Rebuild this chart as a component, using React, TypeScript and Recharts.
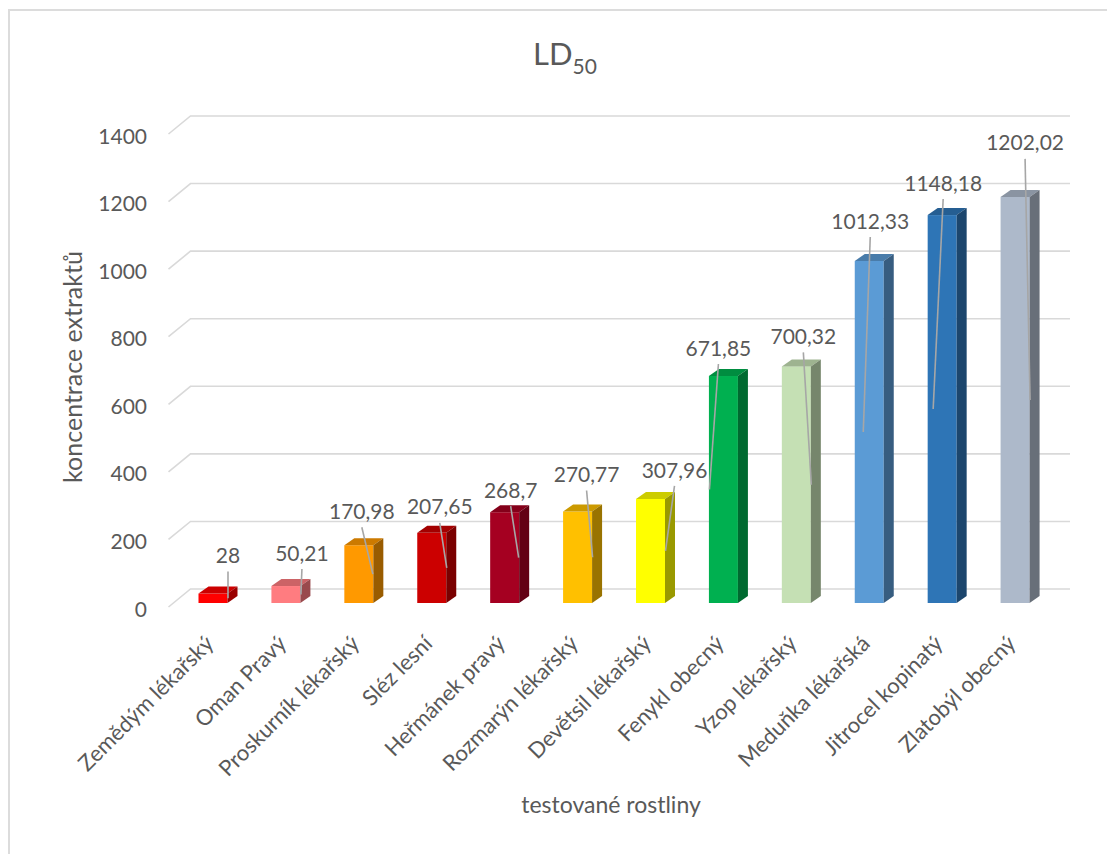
import React from 'react';
import { BarChart, Bar, XAxis, YAxis, CartesianGrid, LabelList, Cell } from 'recharts';

const PLANTS = [
  'Zemědým lékařský',
  'Oman Pravý',
  'Proskurník lékařský',
  'Sléz lesní',
  'Heřmánek pravý',
  'Rozmarýn lékařský',
  'Devětsil lékařský',
  'Fenykl obecný',
  'Yzop lékařský',
  'Meduňka lékařská',
  'Jitrocel kopinatý',
  'Zlatobýl obecný',
];

const LD50 = [28, 50.21, 170.98, 207.65, 268.7, 270.77, 307.96, 671.85, 700.32, 1012.33, 1148.18, 1202.02];

const Y_TICKS = [0, 200, 400, 600, 800, 1000, 1200, 1400];

const BAR_COLORS = [
  '#ff0000', '#ff7c80', '#ff9900', '#cc0000', '#a50021', '#ffc000',
  '#ffff00', '#00b050', '#c5e0b4', '#5b9bd5', '#2e75b6', '#adb9ca',
];

// Where the data labels sit, relative to the front face of each bar:
// [label dx from bar center, label dy from bar top, leader end dx from bar center]
const LABEL_NUDGE: [number, number, number][] = [
  [15, -38, 15], [16, -33, 15], [3, -34, 14], [8, -26, 15],
  [6, -22, 14], [9, -37, 15], [24, -29, 15], [-5, -28, -14],
  [7, -30, 15], [1, -40, -6], [1, -32, -9], [10, -54, 15],
];

const FONT = 'Lato, "Open Sans", sans-serif';
const TEXT = '#595959';
const GRID = '#d9d9d9';

// back wall offset of the gridlines, and depth of the bars
const BAR_DX = 10;
const BAR_DY = 7;

const data = PLANTS.map((name, i) => ({ name, value: LD50[i] }));

const fmt = (v: number) => String(v).replace('.', ',');

function shade(hex: string, f: number): string {
  const n = parseInt(hex.slice(1), 16);
  const r = Math.round(((n >> 16) & 255) * f);
  const g = Math.round(((n >> 8) & 255) * f);
  const b = Math.round((n & 255) * f);
  return `rgb(${r},${g},${b})`;
}

// gridline: short diagonal on the side wall, then along the back wall
const WallLine = (p: any) => {
  const { x1, y1, x2 } = p;
  const d = `M${x1 - 8},${y1 + 4} L${x1 + 14},${y1 - 14} L${x2 + 18.5},${y1 - 14}`;
  return <path key={p.key} d={d} fill="none" stroke={GRID} strokeWidth={1.6} />;
};

const Bar3D = (p: any) => {
  const { x, y, width, height, fill } = p;
  if (!height || height <= 0) return null;
  const top = `M${x},${y} L${x + BAR_DX},${y - BAR_DY} L${x + width + BAR_DX},${y - BAR_DY} L${x + width},${y} Z`;
  const side = `M${x + width},${y} L${x + width + BAR_DX},${y - BAR_DY} L${x + width + BAR_DX},${y + height - BAR_DY} L${x + width},${y + height} Z`;
  return (
    <g>
      <rect x={x} y={y} width={width} height={height} fill={fill} />
      <path d={top} fill={shade(fill, 0.8)} />
      <path d={side} fill={shade(fill, 0.6)} />
    </g>
  );
};

const LeaderLabel = (p: any) => {
  const { x, y, width, height, value, index } = p;
  const [dx, dy, ex] = LABEL_NUDGE[index];
  const cx = Number(x) + Number(width) / 2;
  const lx = cx + dx;
  const ly = Number(y) + dy;
  return (
    <g>
      <line x1={lx} y1={ly + 16} x2={cx + ex} y2={Number(y) + Number(height) / 2} stroke="#a6a6a6" strokeWidth={1.6} />
      <text x={lx} y={ly} dy="0.36em" textAnchor="middle" fontFamily={FONT} fontSize={21} fill={TEXT}>
        {fmt(value)}
      </text>
    </g>
  );
};

const PlantTick = (p: any) => {
  const { x, y, payload } = p;
  const tx = x + 2;
  const ty = y + 34;
  return (
    <text x={tx} y={ty} transform={`rotate(-45 ${tx} ${ty})`} textAnchor="end" fontFamily={FONT} fontSize={22} fill={TEXT}>
      {payload.value}
    </text>
  );
};

const ValueTick = (p: any) => {
  const { x, y, payload } = p;
  return (
    <text x={x} y={y + 6} dy="0.36em" textAnchor="end" fontFamily={FONT} fontSize={21} fill={TEXT}>
      {payload.value}
    </text>
  );
};

export default function App() {
  return (
    <div style={{ position: 'absolute', left: 0, top: 0, width: 1107, height: 854, overflow: 'hidden', background: '#fff' }}>
      <div style={{ position: 'absolute', left: 8, top: 9, width: 1200, height: 1000, border: '2px solid #dcdcdc' }} />
      <BarChart
        width={1107}
        height={854}
        data={data}
        margin={{ top: 130, right: 55.5, bottom: 0, left: 76.5 }}
        style={{ position: 'absolute', left: 0, top: 0 }}
      >
        <CartesianGrid vertical={false} horizontal={WallLine} />
        <XAxis dataKey="name" interval={0} axisLine={false} tickLine={false} height={251} tick={<PlantTick />} />
        <YAxis
          domain={[0, 1400]}
          ticks={Y_TICKS}
          width={100}
          axisLine={false}
          tickLine={false}
          tickSize={0}
          tickMargin={29.5}
          tick={<ValueTick />}
        />
        <Bar dataKey="value" barSize={29} shape={<Bar3D />} isAnimationActive={false}>
          {data.map((d, i) => (
            <Cell key={d.name} fill={BAR_COLORS[i]} />
          ))}
          <LabelList dataKey="value" content={<LeaderLabel />} />
        </Bar>
        <text x={533} y={65} fontFamily={FONT} fontSize={31} fill={TEXT}>
          LD<tspan dy={9} fontSize={21}>50</tspan>
        </text>
        <text
          x={82}
          y={367}
          transform="rotate(-90 82 367)"
          textAnchor="middle"
          fontFamily={FONT}
          fontSize={25}
          fill={TEXT}
        >
          koncentrace extraktů
        </text>
        <text x={611} y={813} textAnchor="middle" fontFamily={FONT} fontSize={23} fill={TEXT}>
          testované rostliny
        </text>
      </BarChart>
    </div>
  );
}
